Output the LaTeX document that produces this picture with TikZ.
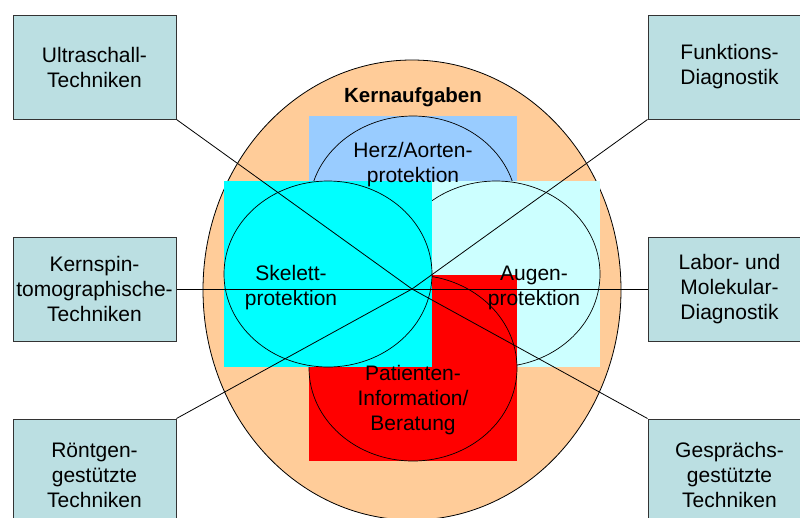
\documentclass[tikz,border=0pt]{standalone}
\usepackage{fontspec}
\setmainfont{Liberation Sans}
\usetikzlibrary{shapes.geometric}
\definecolor{orangebg}{HTML}{FFCC99}
\definecolor{herzblue}{HTML}{99CCFF}
\definecolor{skcyan}{HTML}{00FFFF}
\definecolor{augcyan}{HTML}{CCFFFF}
\definecolor{patred}{HTML}{FF0000}
\definecolor{boxfill}{HTML}{BBDFE2}
\definecolor{boxline}{HTML}{333333}
\begin{document}
\begin{tikzpicture}[x=1pt,y=-1pt,
  txt/.style={font=\fontsize{21}{25}\selectfont, align=center, inner sep=0pt},
  outerbox/.style={txt, draw=boxline, line width=1pt, fill=boxfill, minimum width=163pt, minimum height=104pt},
  area/.style={rectangle, inner sep=0pt, minimum width=208pt, minimum height=186pt},
  oval/.style={ellipse, draw=black, line width=0.7pt, inner sep=0pt, minimum width=208pt, minimum height=186pt},
  conn/.style={draw=black, line width=0.8pt}]
\useasboundingbox (0,0) rectangle (800,517);
\clip (0,0) rectangle (800,517);
% big ellipse
\node[ellipse, draw=black, line width=0.8pt, fill=orangebg, inner sep=0pt,
      minimum width=418pt, minimum height=460pt] (kern) at (412,290) {};
\node[txt, font=\fontsize{20.5}{24.5}\selectfont\bfseries] (kernt) at (413,97) {Kernaufgaben};
% Herz
\node[area, fill=herzblue] (herzR) at (413,209) {};
\node[oval] (herzE) at (413,209) {};
% Augen
\node[area, fill=augcyan] (augR) at (496,274) {};
\node[oval] (augE) at (496,274) {};
% Patienten
\node[area, fill=patred] (patR) at (413,368) {};
\node[oval] (patE) at (413,368) {};
% Skelett
\node[area, fill=skcyan] (skR) at (328,274) {};
\node[oval] (skE) at (328,274) {};
% texts
\node[txt] (herzT) at (413,165) {Herz/Aorten-\\protektion};
\node[txt] (skT) at (291,288) {Skelett-\\protektion};
\node[txt] (augT) at (534,288) {Augen-\\protektion};
\node[txt] (patT) at (413,400) {Patienten-\\Information/\\Beratung};
% outer boxes
\node[outerbox] (us) at (94.5,67) {Ultraschall-\\Techniken};
\node[outerbox] (fd) at (729.5,67) {Funktions-\\Diagnostik};
\node[outerbox] (ks) at (94.5,289) {Kernspin-\\tomographische-\\Techniken};
\node[outerbox] (lm) at (729.5,289) {Labor- und\\Molekular-\\Diagnostik};
\node[outerbox, minimum height=112pt] (rg) at (94.5,475) {Röntgen-\\gestützte\\Techniken};
\node[outerbox, minimum height=112pt] (gs) at (729.5,475) {Gesprächs-\\gestützte\\Techniken};
% connectors
\coordinate (c) at (412,289);
\draw[conn] (us.south east) -- (c);
\draw[conn] (fd.south west) -- (c);
\draw[conn] (ks.east) -- (c);
\draw[conn] (lm.west) -- (c);
\draw[conn] (rg.north east) -- (c);
\draw[conn] (gs.north west) -- (c);
\end{tikzpicture}
\end{document}
